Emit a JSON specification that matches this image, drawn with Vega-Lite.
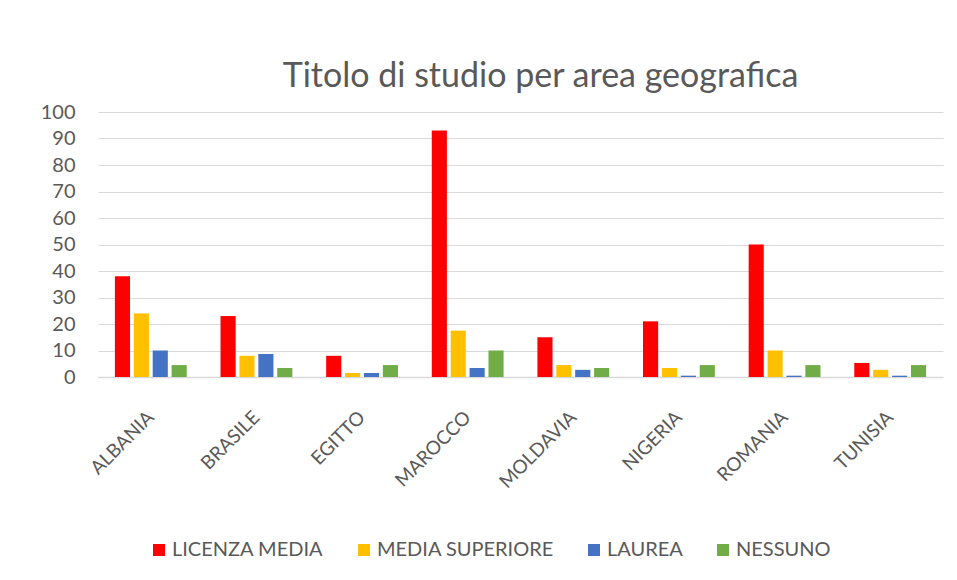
{
  "$schema": "https://vega.github.io/schema/vega-lite/v6.json",
  "width": 845,
  "height": 265,
  "autosize": {"type": "none"},
  "padding": {"left": 98, "top": 112, "right": 14, "bottom": 203},
  "background": "white",
  "title": {
    "text": "Titolo di studio per area geografica",
    "font": "Lato",
    "fontSize": 34,
    "fontWeight": "normal",
    "color": "#595959",
    "anchor": "middle",
    "baseline": "alphabetic",
    "dx": 20,
    "dy": 35,
    "offset": 16
  },
  "config": {
    "view": {"stroke": null},
    "font": "Lato"
  },
  "data": {
    "values": [
      {"paese": "ALBANIA", "titolo": "LICENZA MEDIA", "valore": 38},
      {"paese": "ALBANIA", "titolo": "MEDIA SUPERIORE", "valore": 24},
      {"paese": "ALBANIA", "titolo": "LAUREA", "valore": 10},
      {"paese": "ALBANIA", "titolo": "NESSUNO", "valore": 4.5},
      {"paese": "BRASILE", "titolo": "LICENZA MEDIA", "valore": 23},
      {"paese": "BRASILE", "titolo": "MEDIA SUPERIORE", "valore": 8},
      {"paese": "BRASILE", "titolo": "LAUREA", "valore": 8.7},
      {"paese": "BRASILE", "titolo": "NESSUNO", "valore": 3.4},
      {"paese": "EGITTO", "titolo": "LICENZA MEDIA", "valore": 8},
      {"paese": "EGITTO", "titolo": "MEDIA SUPERIORE", "valore": 1.5},
      {"paese": "EGITTO", "titolo": "LAUREA", "valore": 1.5},
      {"paese": "EGITTO", "titolo": "NESSUNO", "valore": 4.5},
      {"paese": "MAROCCO", "titolo": "LICENZA MEDIA", "valore": 93},
      {"paese": "MAROCCO", "titolo": "MEDIA SUPERIORE", "valore": 17.5},
      {"paese": "MAROCCO", "titolo": "LAUREA", "valore": 3.4},
      {"paese": "MAROCCO", "titolo": "NESSUNO", "valore": 10},
      {"paese": "MOLDAVIA", "titolo": "LICENZA MEDIA", "valore": 15},
      {"paese": "MOLDAVIA", "titolo": "MEDIA SUPERIORE", "valore": 4.5},
      {"paese": "MOLDAVIA", "titolo": "LAUREA", "valore": 2.7},
      {"paese": "MOLDAVIA", "titolo": "NESSUNO", "valore": 3.4},
      {"paese": "NIGERIA", "titolo": "LICENZA MEDIA", "valore": 21},
      {"paese": "NIGERIA", "titolo": "MEDIA SUPERIORE", "valore": 3.4},
      {"paese": "NIGERIA", "titolo": "LAUREA", "valore": 0.5},
      {"paese": "NIGERIA", "titolo": "NESSUNO", "valore": 4.5},
      {"paese": "ROMANIA", "titolo": "LICENZA MEDIA", "valore": 50},
      {"paese": "ROMANIA", "titolo": "MEDIA SUPERIORE", "valore": 10},
      {"paese": "ROMANIA", "titolo": "LAUREA", "valore": 0.5},
      {"paese": "ROMANIA", "titolo": "NESSUNO", "valore": 4.5},
      {"paese": "TUNISIA", "titolo": "LICENZA MEDIA", "valore": 5.3},
      {"paese": "TUNISIA", "titolo": "MEDIA SUPERIORE", "valore": 2.7},
      {"paese": "TUNISIA", "titolo": "LAUREA", "valore": 0.5},
      {"paese": "TUNISIA", "titolo": "NESSUNO", "valore": 4.5}
    ]
  },
  "mark": {"type": "bar"},
  "encoding": {
    "x": {
      "field": "paese",
      "type": "nominal",
      "sort": null,
      "scale": {"paddingInner": 0.32, "paddingOuter": 0.16},
      "axis": {
        "title": null,
        "labelAngle": -45,
        "labelAlign": "right",
        "labelBaseline": "middle",
        "labelPadding": 37,
        "labelFontSize": 19,
        "labelColor": "#595959",
        "labelFont": "Lato",
        "ticks": false,
        "domainColor": "#d9d9d9",
        "domainWidth": 1.5,
        "grid": false
      }
    },
    "xOffset": {
      "field": "titolo",
      "type": "nominal",
      "sort": ["LICENZA MEDIA", "MEDIA SUPERIORE", "LAUREA", "NESSUNO"],
      "scale": {"paddingInner": 0.2, "paddingOuter": 0}
    },
    "y": {
      "field": "valore",
      "type": "quantitative",
      "scale": {"domain": [0, 100], "nice": false},
      "axis": {
        "title": null,
        "values": [0, 10, 20, 30, 40, 50, 60, 70, 80, 90, 100],
        "labelPadding": 23,
        "labelFontSize": 20,
        "labelColor": "#595959",
        "labelFont": "Lato",
        "domain": false,
        "ticks": false,
        "grid": true,
        "gridColor": "#d9d9d9",
        "gridWidth": 1
      }
    },
    "color": {
      "field": "titolo",
      "type": "nominal",
      "sort": ["LICENZA MEDIA", "MEDIA SUPERIORE", "LAUREA", "NESSUNO"],
      "scale": {
        "domain": ["LICENZA MEDIA", "MEDIA SUPERIORE", "LAUREA", "NESSUNO"],
        "range": ["#ff0000", "#ffc000", "#4472c4", "#70ad47"]
      },
      "legend": {
        "title": null,
        "orient": "none",
        "legendX": 51,
        "legendY": 428,
        "direction": "horizontal",
        "columns": 4,
        "columnPadding": 30,
        "symbolType": "square",
        "symbolSize": 144,
        "symbolStrokeWidth": 0,
        "labelFontSize": 20,
        "labelFont": "Lato",
        "labelColor": "#595959",
        "labelOffset": 3,
        "labelLimit": 400
      }
    }
  }
}
